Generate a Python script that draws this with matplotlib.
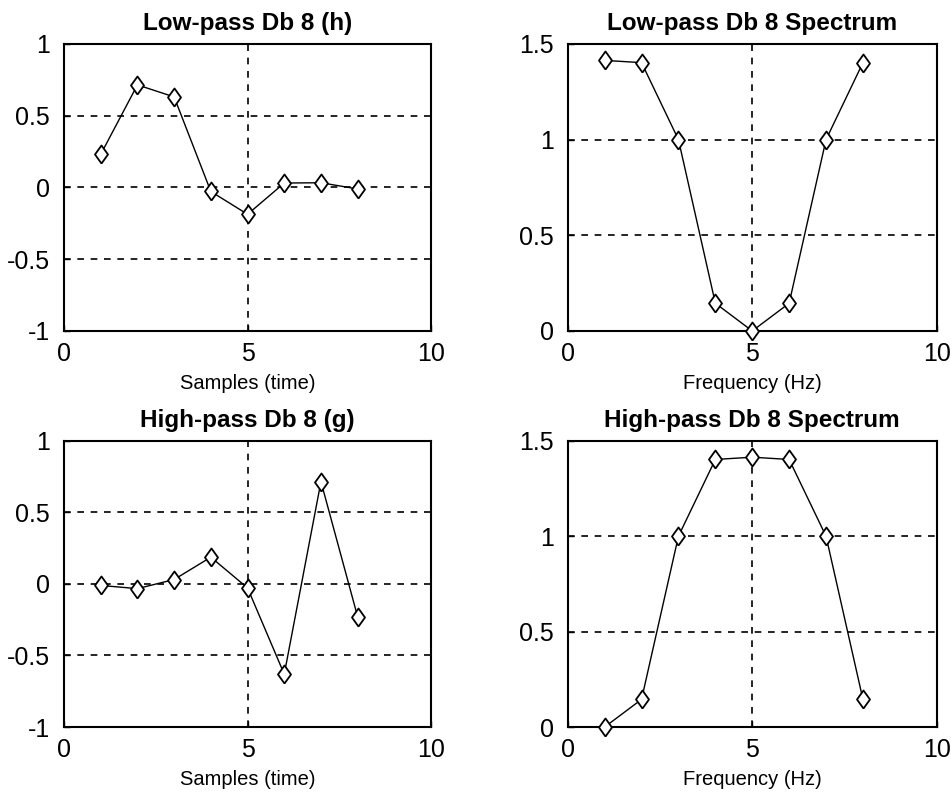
import matplotlib
matplotlib.use('Agg')
import matplotlib.pyplot as plt
import numpy as np

plt.rcParams['font.family'] = ['Liberation Sans', 'DejaVu Sans']

n = [1, 2, 3, 4, 5, 6, 7, 8]
h = [0.2304, 0.7148, 0.6309, -0.0280, -0.1870, 0.0308, 0.0329, -0.0106]
g = [-0.0106, -0.0329, 0.0308, 0.1870, -0.0280, -0.6309, 0.7148, -0.2304]
H = [1.4142, 1.4023, 1.0000, 0.1448, 0.0000, 0.1448, 1.0000, 1.4023]
G = [0.0000, 0.1448, 1.0000, 1.4023, 1.4142, 1.4023, 1.0000, 0.1448]

panels = [
    (h, 'Low-pass Db 8 (h)', 'Samples (time)', (-1, 1), [-1, -0.5, 0, 0.5, 1], ['-1', '-0.5', '0', '0.5', '1']),
    (H, 'Low-pass Db 8 Spectrum', 'Frequency (Hz)', (0, 1.5), [0, 0.5, 1, 1.5], ['0', '0.5', '1', '1.5']),
    (g, 'High-pass Db 8 (g)', 'Samples (time)', (-1, 1), [-1, -0.5, 0, 0.5, 1], ['-1', '-0.5', '0', '0.5', '1']),
    (G, 'High-pass Db 8 Spectrum', 'Frequency (Hz)', (0, 1.5), [0, 0.5, 1, 1.5], ['0', '0.5', '1', '1.5']),
]
rects = [
    [0.0673, 0.5837, 0.386, 0.361],
    [0.597, 0.5837, 0.388, 0.361],
    [0.0673, 0.0855, 0.386, 0.360],
    [0.597, 0.0855, 0.388, 0.360],
]

# diamond a bit wider than matplotlib's thin diamond
diamond = [(0, -1), (0.72, 0), (0, 1), (-0.72, 0), (0, -1)]

fig = plt.figure(figsize=(9.51, 7.95), dpi=100)
for (y, title, xlab, ylim, yt, ytl), r in zip(panels, rects):
    ax = fig.add_axes(r)
    ax.plot(n, y, '-', color='black', lw=1.0, marker=diamond, markersize=13,
            markerfacecolor='white', markeredgecolor='black', markeredgewidth=1.3,
            clip_on=False, zorder=5)
    ax.set_xlim(0, 10)
    ax.set_ylim(*ylim)
    ax.set_xticks([0, 5, 10])
    ax.set_xticklabels(['0', '5', '10'])
    ax.set_yticks(yt)
    ax.set_yticklabels(ytl)
    ax.tick_params(direction='in', length=4, labelsize=18, width=1)
    ax.tick_params(axis='y', pad=10)
    ax.tick_params(axis='x', pad=8)
    ax.grid(True, color='black', linestyle=(0, (4, 4)), lw=1.2)
    for s in ax.spines.values():
        s.set_linewidth(1.5)
    ax.set_title(title, fontsize=17.5, fontweight='bold', pad=10)
    ax.set_xlabel(xlab, fontsize=14.5, labelpad=6)

plt.savefig('out.png', dpi=100)
